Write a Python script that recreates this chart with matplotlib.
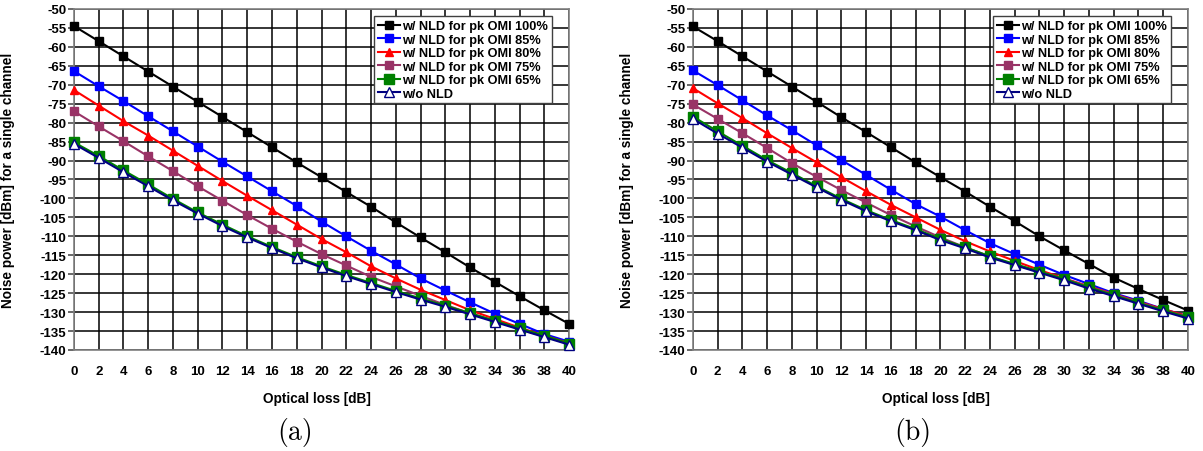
import matplotlib
matplotlib.use("Agg")
import matplotlib.pyplot as plt

# optical loss [dB]
loss = [0, 2, 4, 6, 8, 10, 12, 14, 16, 18, 20, 22, 24, 26, 28, 30, 32, 34, 36, 38, 40]

# panel (a)
omi100_a = [-54.5, -58.5, -62.5, -66.5, -70.5, -74.5, -78.5, -82.5, -86.5, -90.5, -94.4,
            -98.3, -102.2, -106.3, -110.3, -114.2, -118.2, -122.0, -125.8, -129.5, -133.1]
omi85_a = [-66.4, -70.4, -74.3, -78.3, -82.3, -86.3, -90.3, -94.2, -98.1, -102.0, -106.1,
           -110.0, -113.8, -117.4, -121.1, -124.3, -127.4, -130.4, -133.1, -135.8, -137.8]
omi80_a = [-71.4, -75.5, -79.6, -83.4, -87.4, -91.4, -95.4, -99.3, -103.1, -106.9, -110.7,
           -114.2, -117.9, -121.1, -124.1, -126.8, -129.5, -131.8, -134.1, -136.2, -138.2]
omi75_a = [-77.0, -81.0, -84.9, -88.9, -92.8, -96.8, -100.6, -104.4, -108.0, -111.4, -114.7,
           -117.7, -120.7, -123.2, -125.7, -128.1, -130.3, -132.3, -134.5, -136.4, -138.4]
omi65_a = [-85.2, -88.8, -92.6, -96.3, -100.1, -103.7, -106.9, -110.0, -112.8, -115.5, -117.9,
           -120.2, -122.3, -124.4, -126.4, -128.3, -130.3, -132.3, -134.3, -136.2, -138.3]
nonld_a = [-85.6, -89.3, -93.1, -96.8, -100.5, -104.0, -107.3, -110.3, -113.1, -115.8, -118.2,
           -120.5, -122.6, -124.7, -126.7, -128.6, -130.6, -132.6, -134.6, -136.6, -138.6]

# panel (b)
omi100_b = [-54.6, -58.5, -62.5, -66.5, -70.5, -74.5, -78.6, -82.5, -86.5, -90.5, -94.4,
            -98.2, -102.2, -106.0, -110.0, -113.7, -117.3, -120.9, -123.9, -126.8, -129.6]
omi85_b = [-66.2, -70.1, -74.1, -78.1, -82.0, -86.0, -89.9, -93.8, -97.7, -101.5, -104.8,
           -108.4, -111.8, -114.7, -117.5, -120.2, -122.6, -125.0, -127.0, -129.2, -131.1]
omi80_b = [-70.9, -74.9, -78.8, -82.8, -86.7, -90.5, -94.4, -98.1, -101.7, -105.0, -108.3,
           -111.3, -114.0, -116.5, -118.9, -121.1, -123.2, -125.2, -127.3, -129.2, -131.1]
omi75_b = [-75.2, -79.0, -82.8, -86.7, -90.7, -94.3, -97.8, -101.1, -104.4, -107.4, -110.3,
           -112.9, -115.3, -117.5, -119.3, -121.2, -123.3, -125.3, -127.4, -129.4, -131.3]
omi65_b = [-78.4, -82.3, -86.1, -89.9, -93.3, -96.8, -100.1, -103.1, -105.7, -108.1, -110.7,
           -112.9, -115.3, -117.3, -119.3, -121.3, -123.5, -125.5, -127.6, -129.5, -131.4]
nonld_b = [-79.0, -82.9, -86.6, -90.3, -93.7, -97.1, -100.4, -103.4, -106.0, -108.4, -111.0,
           -113.2, -115.6, -117.6, -119.6, -121.6, -123.8, -125.8, -127.8, -129.8, -131.7]

labels = ["w/ NLD for pk OMI 100%", "w/ NLD for pk OMI 85%", "w/ NLD for pk OMI 80%",
          "w/ NLD for pk OMI 75%", "w/ NLD for pk OMI 65%", "w/o NLD"]

plt.rcParams['font.family'] = ['Liberation Sans', 'DejaVu Sans']
plt.rcParams['font.weight'] = 'bold'
plt.rcParams['axes.unicode_minus'] = False

fig = plt.figure(figsize=(12.03, 4.52), dpi=100)


def draw_panel(ax, series):
    styles = [
        dict(color='black', marker='s', ms=5.5, mfc='black', mec='black'),
        dict(color='#0000FF', marker='s', ms=5.5, mfc='#0000FF', mec='#0000FF'),
        dict(color='#FF0000', marker='^', ms=6, mfc='#FF0000', mec='#FF0000'),
        dict(color='#993366', marker='s', ms=5.5, mfc='#993366', mec='#993366'),
        dict(color='#008000', marker='s', ms=6.5, mfc='#008000', mec='#008000'),
        dict(color='#000080', marker='^', ms=7.5, mfc='white', mec='#000080', mew=1.0),
    ]
    for ys, lab, st in zip(series, labels, styles):
        ax.plot(loss, ys, label=lab, lw=1.5, clip_on=False, zorder=3, **st)

    ax.set_xlim(0, 40)
    ax.set_ylim(-140, -50)
    ax.set_xticks(range(0, 41, 2))
    ax.set_yticks(range(-140, -49, 5))
    ax.grid(True, color='black', lw=1.1)
    ax.set_axisbelow(True)
    for sp in ax.spines.values():
        sp.set_color('#808080')
        sp.set_linewidth(1.2)
    ax.tick_params(axis='x', length=0, pad=11, labelsize=9.5)
    ax.tick_params(axis='y', length=4, width=1.1, color='#404040', pad=1.5, labelsize=9.5)
    ax.set_xlabel('Optical loss [dB]', fontsize=9.8, fontweight='bold')
    ax.set_ylabel('Noise power [dBm] for a single channel', fontsize=9.8, fontweight='bold')
    ax.xaxis.set_label_coords(0.49, -0.12)
    ax.yaxis.set_label_coords(-0.12, 0.5)

    leg = ax.legend(loc='upper right', bbox_to_anchor=(0.966, 0.979), borderaxespad=0,
                    fancybox=False, framealpha=1, edgecolor='#404040',
                    prop=dict(size=9.2, weight='bold'), handlelength=1.7,
                    handletextpad=0.2, labelspacing=0.12, borderpad=0.3)
    leg.get_frame().set_linewidth(1.0)


ax1 = fig.add_axes([0.0615, 0.2235, 0.4115, 0.7544])
draw_panel(ax1, [omi100_a, omi85_a, omi80_a, omi75_a, omi65_a, nonld_a])

ax2 = fig.add_axes([0.576, 0.2235, 0.4115, 0.7544])
draw_panel(ax2, [omi100_b, omi85_b, omi80_b, omi75_b, omi65_b, nonld_b])

fig.text(295 / 1203, 0.044, '(a)', fontfamily='cmr10', fontweight='normal',
         fontsize=20, ha='center', va='center')
fig.text(913 / 1203, 0.044, '(b)', fontfamily='cmr10', fontweight='normal',
         fontsize=20, ha='center', va='center')

fig.savefig('out.png', dpi=100)
